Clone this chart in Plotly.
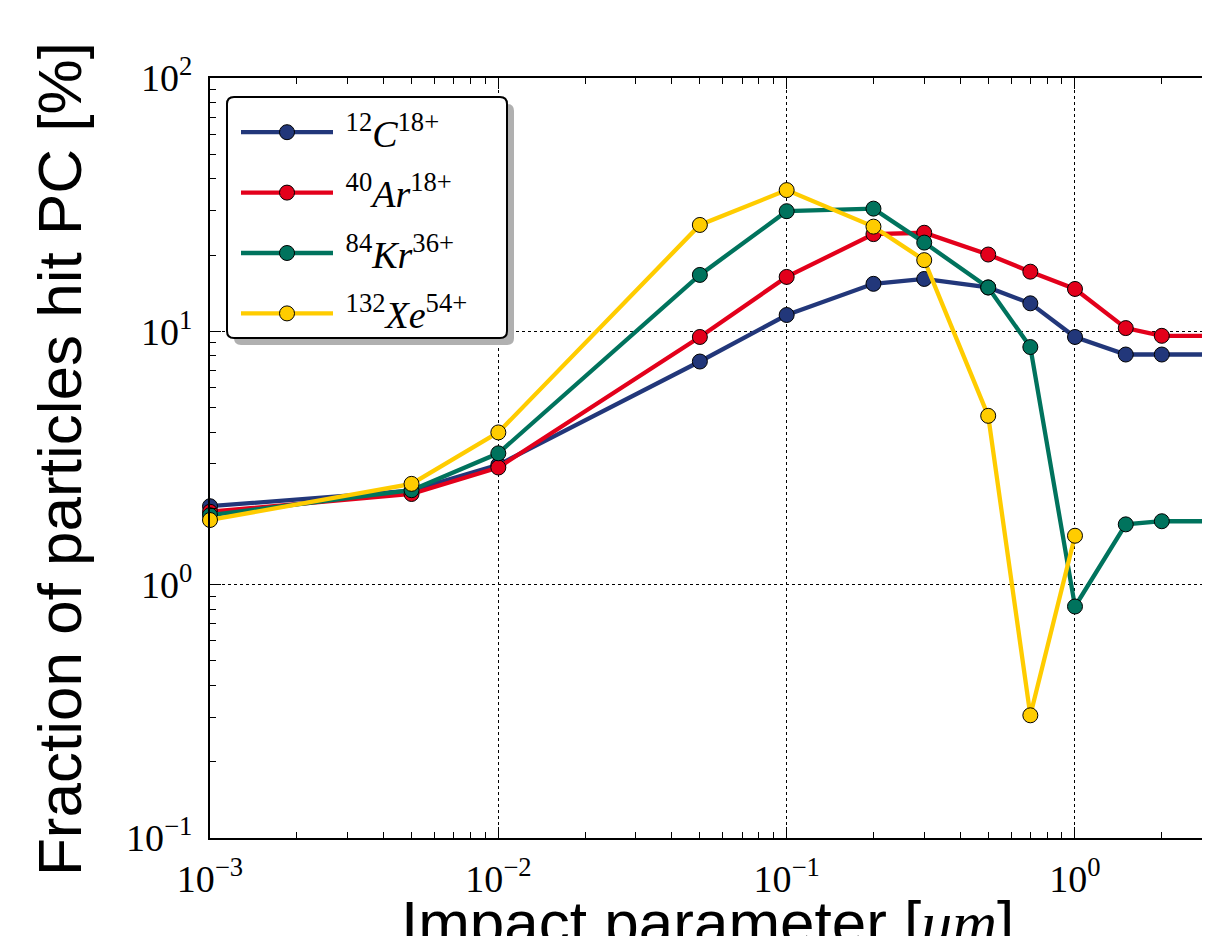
import plotly.graph_objects as go

# ---------------- data ----------------
impact_um = [0.001, 0.005, 0.01, 0.05, 0.1, 0.2, 0.3, 0.5, 0.7, 1.0, 1.5, 2.0, 3.0]
impact_um_xe = [0.001, 0.005, 0.01, 0.05, 0.1, 0.2, 0.3, 0.5, 0.7, 1.0]

frac_c12 = [2.04, 2.35, 2.97, 7.6, 11.6, 15.4, 16.1, 14.9, 12.9, 9.5, 8.1, 8.1, 8.1]
frac_ar40 = [1.94, 2.28, 2.90, 9.5, 16.4, 24.2, 24.5, 20.1, 17.2, 14.7, 10.3, 9.6, 9.6]
frac_kr84 = [1.88, 2.36, 3.30, 16.7, 29.8, 30.5, 22.4, 14.9, 8.67, 0.82, 1.73, 1.78, 1.78]
frac_xe132 = [1.80, 2.50, 3.99, 26.3, 36.1, 25.9, 19.1, 4.64, 0.305, 1.56]

series_names = [
    "<sup>12</sup><i>C</i><sup>18+</sup>",
    "<sup>40</sup><i>Ar</i><sup>18+</sup>",
    "<sup>84</sup><i>Kr</i><sup>36+</sup>",
    "<sup>132</sup><i>Xe</i><sup>54+</sup>",
]
series_colors = ["#22377a", "#e3001b", "#00735d", "#ffcc00"]
series_x = [impact_um, impact_um, impact_um, impact_um_xe]
series_y = [frac_c12, frac_ar40, frac_kr84, frac_xe132]

x_exponents = [-3, -2, -1, 0]
y_exponents = [-1, 0, 1, 2]

x_title = "Impact parameter [<span style='font-family:Liberation Serif'><i>um</i></span>]"
y_title = "Fraction of particles hit PC [%]"

# ---------------- figure ----------------
# page body has an 8px margin; figure sized so the page does not scroll
OFF = 8
W, H = 1194, 928
L, T = 210 - OFF, 78 - OFF
PB = 838 - OFF           # plot bottom (figure px)
R, B = 0, H - PB
PW, PH = W - L - R, PB - T


def px(x_screen):
    return (x_screen - OFF - L) / PW


def py(y_screen):
    return (PB - (y_screen - OFF)) / PH


# x range: decade = 288.3 px, 10^-3 at left edge
x_max_log = -3 + PW / 288.33

fig = go.Figure()
for i, (name, col, xs, ys) in enumerate(zip(series_names, series_colors, series_x, series_y)):
    fig.add_trace(go.Scatter(
        x=xs, y=ys, name="\u2009" + name, mode="lines+markers",
        line=dict(color=col, width=4.3),
        marker=dict(symbol="circle", size=15, color=col, line=dict(color="black", width=1)),
        cliponaxis=False, legendgroup=f"g{i}",
    ))

serif = "Liberation Serif"
sans = "Liberation Sans"


def minor_vals(exps):
    lo, hi = min(exps) - 1, max(exps) + 1
    return [m * 10.0 ** e for e in range(lo, hi) for m in range(2, 10)]


axis_common = dict(
    type="log", tickmode="array",
    ticks="inside", ticklen=11, tickwidth=1, tickcolor="black",
    showline=True, linecolor="black", linewidth=2,
    showgrid=True, gridcolor="black", gridwidth=1, griddash="dot",
    zeroline=False,
    tickfont=dict(family=serif, size=38, color="black"),
    automargin=False,
)

fig.update_xaxes(
    range=[-3, x_max_log], mirror="ticks", ticklabelstandoff=6,
    tickvals=[10.0 ** e for e in x_exponents],
    ticktext=[f"10<sup>{str(e).replace('-', '−')}</sup>" for e in x_exponents],
    minor=dict(tickmode="array", tickvals=minor_vals(x_exponents), ticks="inside",
               ticklen=6, tickwidth=1, tickcolor="black", showgrid=False),
    **axis_common)
fig.update_yaxes(
    range=[-1, 2], mirror=False, ticklabelstandoff=8,
    tickvals=[10.0 ** e for e in y_exponents],
    ticktext=[f"10<sup>{str(e).replace('-', '−')}</sup>" for e in y_exponents],
    minor=dict(tickmode="array", tickvals=minor_vals(y_exponents), ticks="inside",
               ticklen=6, tickwidth=1, tickcolor="black", showgrid=False),
    **axis_common)


# legend box with rounded corners and shadow
def rounded_path(x0, y0, x1, y1, r):
    X0, X1 = px(x0), px(x1)
    Y0, Y1 = py(y0), py(y1)
    rx, ry = r / PW, r / PH
    return (f"M{X0+rx},{Y0} L{X1-rx},{Y0} Q{X1},{Y0} {X1},{Y0-ry} "
            f"L{X1},{Y1+ry} Q{X1},{Y1} {X1-rx},{Y1} L{X0+rx},{Y1} "
            f"Q{X0},{Y1} {X0},{Y1+ry} L{X0},{Y0-ry} Q{X0},{Y0} {X0+rx},{Y0} Z")


shapes = [
    dict(type="path", xref="paper", yref="paper", path=rounded_path(234, 104, 514, 345, 7),
         fillcolor="#b0b0b0", line=dict(width=0), layer="above"),
    dict(type="path", xref="paper", yref="paper", path=rounded_path(227, 97, 507, 338, 7),
         fillcolor="white", line=dict(color="black", width=2), layer="above"),
]

fig.update_layout(
    width=W, height=H,
    margin=dict(l=L, r=R, t=T, b=B, pad=0),
    paper_bgcolor="white", plot_bgcolor="white",
    showlegend=True,
    legend=dict(
        x=px(236), y=py(101), xanchor="left", yanchor="top",
        bgcolor="rgba(0,0,0,0)", borderwidth=0,
        font=dict(family=serif, size=38, color="black"),
        tracegroupgap=8, itemwidth=92,
    ),
    shapes=shapes,
    annotations=[
        dict(text=x_title, xref="paper", yref="paper", x=px(707), y=py(886),
             xanchor="center", yanchor="top", showarrow=False,
             font=dict(family=sans, size=62, color="black")),
        dict(text=y_title, xref="paper", yref="paper", x=px(60), y=py(459),
             xanchor="center", yanchor="middle", textangle=-90, showarrow=False,
             font=dict(family=sans, size=62, color="black")),
    ],
)

fig.write_html("out.html")
